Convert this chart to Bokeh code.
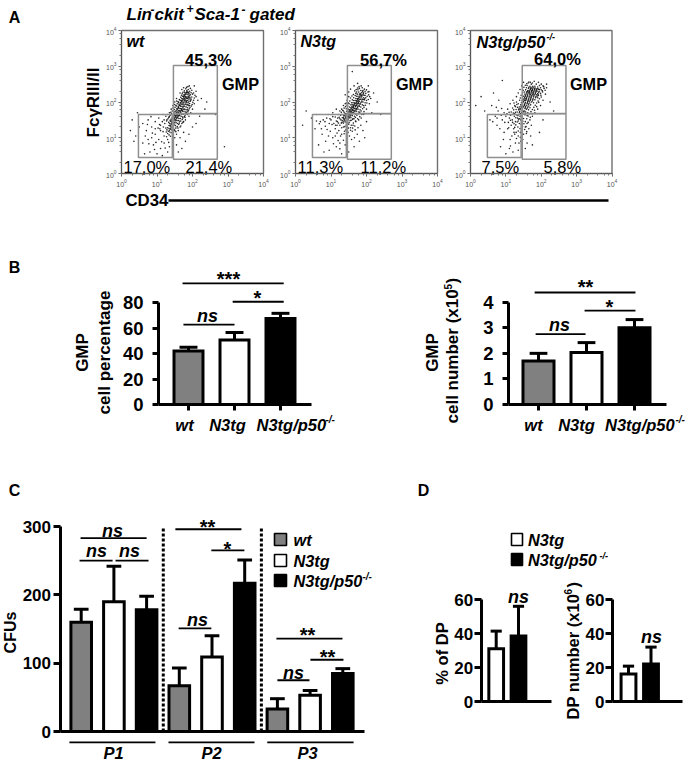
from math import pi
import numpy as np
from bokeh.embed import file_html
from bokeh.resources import INLINE
from bokeh.plotting import figure
from bokeh.core.properties import value
from bokeh.models import Range1d, LinearAxis, LogAxis, LogScale, FixedTicker, LogTicker

# ---------- data ----------
groups = ["wt", "N3tg", "N3tg/p50"]
bar_colors = ["#808080", "#ffffff", "#000000"]

gmp_pct = [42, 50.5, 67.5]
gmp_pct_cap = [45, 56.5, 71.5]
gmp_num = [1.7, 2.03, 3.0]
gmp_num_cap = [2.0, 2.42, 3.32]

cfu_x = [1, 2, 3, 4, 5, 6, 7, 8, 9]
cfu = [160, 190, 178, 67, 109, 217, 33, 53, 85]
cfu_cap = [179, 242, 198, 93, 140, 251, 48, 60, 92]
cfu_col = bar_colors * 3
cfu_passages = ["P1", "P2", "P3"]

dp_pct = [31, 38.5]
dp_pct_cap = [41.4, 56]
dp_num = [16.2, 22]
dp_num_cap = [20.8, 32]
dp_col = ["#ffffff", "#000000"]

gate_left = [29, 29, 3]
gate_right = [500, 500, 27]
gate_bottom = [48, 2.5, 2.8]
gate_top = [1050, 47, 45]

# FACS events, read as hundredths of a decade (log10 x, log10 y)
wt_events = [
(188,235),(194,238),(198,233),(184,232),(192,230),(178,226),(186,226),(190,224),(196,226),(182,222),(194,220),(200,222),(176,220),
(172,216),(180,216),(184,214),(188,216),(192,214),(198,214),(176,212),(182,210),(186,210),(190,208),(196,208),(170,210),
(168,204),(174,206),(178,204),(182,204),(186,204),(190,202),(194,202),(172,200),(176,200),(180,200),(184,198),(188,198),(192,196),(166,198),
(162,194),(168,194),(172,194),(176,192),(180,194),(184,192),(188,190),(192,190),(170,188),(174,188),(178,188),(182,186),(186,184),(160,188),(166,188),
(156,182),(162,182),(166,182),(170,182),(174,180),(178,180),(182,178),(186,178),(160,176),(164,176),(168,176),(172,174),(176,174),(180,172),(158,172),(154,176),
(150,168),(154,168),(158,168),(162,168),(166,168),(170,166),(174,166),(148,162),(152,162),(156,162),(160,162),(164,162),(168,160),(172,158),(146,156),(150,156),(154,156),(158,156),(162,154),(166,154),
(140,152),(144,150),(148,150),(152,150),(156,148),(160,148),(164,146),(138,146),(142,144),(146,144),(150,142),(154,142),(158,140),(136,140),(140,138),(144,138),(148,136),(152,134),(134,134),(138,132),(142,130),(146,128),
(130,128),(134,126),(138,124),(142,122),(128,122),(132,118),(136,116),(140,114),(126,116),(130,112),(134,108),(138,104),(144,108),
(120,150),(115,145),(125,160),(130,165),(110,135),(135,170),(128,150),(118,130),(108,125),(122,140),(140,180),(145,190),(150,200),(155,210),(165,225),(170,235),(175,240),(210,215),(215,205),(205,195),(200,180),(195,170),(190,160),(180,150),(175,145),(170,140),(165,130),(160,120),(155,110),(150,100),(185,165),(210,230),(205,245),
(60,140),(70,120),(85,130),(95,110),(75,95),(60,85),(90,80),(105,95),(120,85),(110,70),(130,60),(80,60),(65,55),(100,55),(120,105),(130,95),(85,100),(110,120),(95,145),(75,150),(50,130),(30,150),(25,120),(35,90),(45,170),(40,105),(115,50),(135,75),
(150,120),(165,100),(180,90),(155,80),(170,70),(190,110),(200,130),(145,90),(160,60),(175,115),(210,140),(220,160),(145,65),(235,180),(240,200),(290,75),(265,165),(225,210),
(133,157),(137,163),(141,167),(143,175),(147,171),(149,179),(151,185),(153,191),(155,189),(157,195),(159,201),(161,199),(163,207),(165,205),(167,213),(169,219),(171,223),(173,227),(177,231),(181,237),(183,241),(187,243),(191,245),(127,147),(131,153),(135,159),(139,171),(145,183),(149,193),(155,203),
(153,127),(157,131),(161,137),(163,141),(167,147),(171,151),(173,155),(177,159),(179,163),(181,167),(183,171),(187,173),(189,177),(191,181),(193,185),(197,189),(199,193),(201,199),(203,205),(205,211),(207,219),(203,225),(149,123),(145,117),(153,117),(159,127),(167,133),(173,143),(179,157),(187,167),
(133,143),(137,149),(141,147),(143,157),(147,159),(149,165),(151,173),(155,171),(157,179),(159,183),(161,185),(163,191),(165,191),(167,197),(169,201),(171,205),(173,209),(175,215),(177,217),(179,221),(181,225),(183,227),(185,229),(187,221),(189,227),(191,219),(193,211),(195,205),(187,193),(183,201),(179,207),(175,197),(171,177),(167,171),(163,165),(159,159),(155,153),(151,147),(147,141),(143,135),(139,127),(135,121),(185,211),(189,213),(181,213),(177,209),(173,185),(169,179),(165,173),(161,171),(157,165),(153,159),(149,153),(145,147),(141,141),(137,135),
(73,137),(87,113),(103,127),(117,117),(97,87),(67,105),(113,89),(127,103),(133,87),(93,67),(77,83),(123,71),(107,137),(83,159),(117,165),(105,155),(95,125),(125,127),
]
n3tg_events = [
(180,238),(188,240),(194,236),(200,234),(176,234),(184,232),(190,232),(196,230),(204,228),(172,228),(178,228),(186,226),(192,226),(198,224),(206,220),(170,224),(174,222),(180,222),(184,220),(190,220),(196,218),(202,216),(168,218),(172,216),(176,216),(182,214),(186,214),(192,212),(198,212),(164,212),(170,210),(174,210),(178,210),(184,208),(188,208),(194,206),(200,204),
(160,206),(164,204),(168,204),(172,204),(176,202),(180,202),(186,200),(190,200),(196,198),(158,198),(162,198),(166,198),(170,196),(174,196),(178,196),(182,194),(188,192),(192,190),(156,192),(160,192),(164,190),(168,190),(172,190),(176,188),(180,188),(184,186),(152,186),(156,184),(160,184),(164,184),(168,182),(172,182),(176,180),(182,178),(148,180),(152,178),(156,178),(160,176),(164,176),(168,176),(172,174),(178,172),
(144,174),(148,172),(152,172),(156,170),(160,170),(164,168),(170,166),(140,168),(144,166),(148,166),(152,164),(156,164),(160,162),(166,160),(136,162),(140,160),(144,160),(148,158),(152,158),(156,156),(162,154),(132,156),(136,154),(140,154),(144,152),(148,150),(154,148),(128,150),(132,148),(136,146),(140,144),(146,142),(150,138),
(120,165),(112,158),(105,170),(125,175),(115,180),(130,180),(135,190),(140,195),(145,205),(150,215),(100,150),(108,140),(118,145),(125,135),(130,128),(135,130),(122,120),(112,125),(95,140),(88,155),(92,165),(78,150),(70,145),(84,132),(98,118),(105,100),(112,105),(120,92),(130,110),(138,118),(142,122),(148,115),
(155,128),(162,135),(170,145),(178,150),(185,155),(192,165),(200,180),(208,195),(212,210),(160,118),(168,122),(176,128),(184,135),(152,105),(158,95),(166,100),(174,110),(190,120),(200,145),(215,170),(220,225),(165,245),(175,252),(205,245),(150,228),(140,220),(155,236),
(60,165),(45,155),(30,175),(20,135),(55,125),(75,110),(85,90),(65,80),(95,65),(115,75),(130,55),(80,60),(125,85),(140,80),(150,60),(165,75),(180,90),(195,100),(240,165),(230,200),(160,285),
(129,171),(133,177),(137,183),(141,187),(145,191),(149,197),(153,203),(155,211),(159,217),(163,221),(167,231),(171,235),(175,239),(179,243),(185,245),(127,163),(123,157),(131,165),(119,155),(115,147),(137,171),(143,181),(147,189),(151,195),(143,197),(135,175),(125,153),(121,141),(129,141),(117,135),
(151,143),(157,149),(161,151),(165,153),(169,157),(173,163),(177,167),(181,171),(185,175),(189,181),(193,185),(197,191),(201,197),(205,207),(209,215),(207,229),(157,135),(163,141),(169,147),(175,153),(181,159),(187,165),(193,173),(149,127),(155,121),(161,127),(167,133),(143,135),(139,131),(145,125),
(135,157),(139,163),(143,163),(147,169),(151,175),(155,175),(157,181),(159,187),(163,187),(165,193),(167,195),(171,199),(173,201),(175,207),(177,205),(179,213),(181,217),(183,223),(185,219),(187,217),(189,229),(191,223),(193,219),(195,209),(191,207),(187,203),(183,197),(179,191),(175,185),(171,179),(167,173),(163,171),(159,167),(155,161),(151,155),(147,153),(143,147),(139,149),(135,141),(131,143),(181,207),(177,199),(173,193),(169,187),(165,181),(161,179),(157,173),(153,167),(149,161),(145,157),(141,157),(137,151),
(73,125),(93,105),(103,137),(83,145),(117,113),(127,105),(135,93),(107,83),(89,123),(97,153),(67,139),(59,147),(125,69),(137,111),(113,135),(105,159),
]
p50_events = [
(165,256),(180,258),(192,255),(200,250),(172,250),(186,250),(195,246),(205,245),(160,246),(168,244),(176,244),(182,244),(190,242),(198,240),(208,238),(158,240),(164,238),(170,238),(174,238),(180,238),(186,236),(192,236),(200,234),(156,234),(162,232),(166,232),(172,232),(176,232),(182,232),(188,230),(194,230),(204,228),(152,228),(158,228),(164,228),(168,226),(174,226),(178,226),(184,226),(190,224),(198,224),(154,222),(160,222),(166,222),(170,220),(176,220),(180,220),(186,220),(192,218),(150,216),(156,216),(162,216),(168,214),(172,214),(178,214),(184,212),(190,212),(200,214),(148,210),(154,210),(158,210),(164,208),(170,208),(176,206),(182,206),(146,204),(152,204),(156,204),(162,202),(166,202),(172,200),(178,198),(144,198),(148,198),(154,196),(160,196),(164,194),(170,192),
(142,192),(146,190),(152,190),(156,188),(162,186),(168,184),(138,186),(144,184),(148,184),(154,182),(158,180),(164,178),(136,178),(140,178),(146,176),(150,174),(156,172),(162,170),(132,172),(138,170),(142,168),(148,166),(154,164),(160,162),(130,164),(134,162),(140,160),(146,158),(150,154),(128,156),(136,152),(142,150),(148,146),(132,144),(138,140),(144,138),(128,136),(134,130),(140,126),(146,122),
(120,205),(112,195),(125,190),(130,200),(105,180),(115,172),(122,178),(95,170),(100,160),(110,155),(118,150),(124,160),(88,182),(78,175),(90,150),(70,160),(60,190),(130,215),(135,225),(140,235),(145,245),(150,255),(115,135),(122,125),(108,128),(125,110),(130,98),(112,95),(135,105),(142,90),(150,110),(155,130),(160,140),(168,150),(175,160),(182,170),(190,180),(198,190),(205,205),(212,222),(215,240),(158,112),(165,125),(172,135),(148,95),(160,85),(170,105),(215,250),
(30,215),(40,175),(15,190),(65,225),(80,205),(55,150),(75,135),(95,115),(85,75),(110,70),(120,60),(135,65),(100,55),(155,70),(175,80),(195,115),(235,175),(205,150),(225,200),(90,260),
(137,181),(135,195),(139,205),(141,211),(143,219),(147,225),(149,233),(151,241),(155,247),(159,251),(163,253),(169,255),(175,253),(133,185),(129,179),(127,171),(125,167),(131,193),(127,187),(123,197),(119,183),(117,165),(113,163),(109,171),(121,169),(127,145),(123,139),(119,143),(113,149),(107,143),
(155,145),(159,153),(163,161),(167,167),(171,173),(175,179),(179,185),(183,191),(187,197),(191,203),(195,209),(199,219),(203,231),(207,243),(211,233),(151,139),(157,131),(163,143),(169,157),(175,167),(181,177),(187,187),(193,199),(147,131),(153,123),(159,117),(141,115),(135,119),(129,115),(125,129),
(165,241),(171,241),(177,241),(183,239),(189,237),(195,235),(169,235),(175,235),(181,235),(187,233),(193,227),(161,229),(167,229),(173,229),(179,229),(185,229),(191,221),(159,225),(165,225),(171,223),(177,223),(183,223),(189,217),(155,219),(161,219),(167,217),(173,217),(179,217),(185,215),(153,213),(159,213),(165,211),(171,211),(177,209),(151,207),(157,207),(163,205),(169,205),(175,203),(149,201),(155,199),(161,199),(167,197),(147,193),(153,193),(159,191),(165,189),(143,187),(149,187),(155,185),(161,183),(141,181),(147,179),(153,175),(139,173),(145,171),(151,169),(137,165),(143,161),(133,155),(139,153),(135,147),
(73,185),(87,163),(97,143),(105,125),(83,125),(63,145),(117,105),(127,85),(113,77),(93,95),(103,167),(75,155),(123,115),(141,101),(137,85),
]

# significance brackets: x0, x1, y in each panel's own data units
sig_gmp_pct = [(0.89, 2.0, 62.7), (1.96, 3.07, 80.6), (0.87, 3.07, 95)]
sig_gmp_num = [(0.94, 1.98, 2.75), (1.96, 3.02, 3.67), (0.92, 3.02, 4.38)]
sig_cfu = [(0.98, 3.0, 283), (0.95, 1.96, 250), (2.05, 3.06, 250),
           (3.88, 5.90, 296), (4.98, 5.99, 265), (3.98, 4.98, 151),
           (6.97, 8.99, 136), (8.01, 9.02, 105), (7.0, 7.98, 75),
           (0.64, 3.27, -16), (3.67, 6.30, -16), (6.69, 9.33, -16)]

# ---------- page canvas, coordinates are window pixels ----------
W0, W1, H0, H1 = 0, 687, 0, 763
FONT = "Liberation Sans"
p = figure(width=W1 - W0, height=H1 - H0, x_range=Range1d(W0, W1), y_range=Range1d(H1, H0),
           output_backend="svg", toolbar_location=None, x_axis_location=None, y_axis_location=None,
           min_border=0, outline_line_color=None)
p.grid.visible = False


def span(d0, px0, d1, px1, a, b):
    s = (d1 - d0) / (px1 - px0)
    return d0 + (a - px0) * s, d0 + (b - px0) * s


def panel(name, xa, ya, log=False):
    x0, x1 = span(*xa, W0, W1)
    y0, y1 = span(*ya, H1, H0)
    if log:
        p.extra_x_ranges[name] = Range1d(10 ** x0, 10 ** x1)
        p.extra_y_ranges[name] = Range1d(10 ** y0, 10 ** y1)
        p.extra_x_scales[name] = LogScale()
        p.extra_y_scales[name] = LogScale()
    else:
        p.extra_x_ranges[name] = Range1d(x0, x1)
        p.extra_y_ranges[name] = Range1d(y0, y1)
    return dict(x_range_name=name, y_range_name=name)


def txt(x, y, s, size, style="bold", align="center", angle=0, color="#000000", baseline="middle"):
    p.text([x], [y], text=[s], text_font=value(FONT), text_font_size=f"{size}px", text_font_style=style,
           text_align=align, text_baseline=baseline, angle=angle, text_color=color)


def bar_axes(r, x_bounds, y_ticks, size, out, standoff, x_ticks=(), tick_down=0):
    ya = LinearAxis(fixed_location=x_bounds[0], bounds=(y_ticks[0], y_ticks[-1]), ticker=FixedTicker(ticks=list(y_ticks)), **r)
    xa = LinearAxis(fixed_location=0, bounds=x_bounds, ticker=FixedTicker(ticks=[]), **r)
    ya.major_label_text_font = FONT
    ya.major_label_text_font_style = "bold"
    ya.major_label_text_font_size = f"{size}px"
    ya.major_label_text_color = "#000000"
    ya.major_label_standoff = standoff
    ya.major_tick_out = out
    ya.major_tick_in = 0
    ya.minor_tick_line_color = None
    xa.minor_tick_line_color = None
    for a in (ya, xa):
        a.axis_line_width = 3
        a.axis_line_color = "#000000"
        a.major_tick_line_width = 3
        a.major_tick_line_color = "#000000"
    p.add_layout(ya, "left")
    p.add_layout(xa, "below")
    for t in x_ticks:
        p.segment([t], [0], [t], [-tick_down], line_color="#000000", line_width=3, **r)


def bars(r, xs, tops, caps, colors, bar_w, cap_w):
    xs = np.array(xs, dtype=float)
    p.vbar(x=xs, top=tops, bottom=0, width=bar_w, fill_color=colors, line_color="#000000",
           line_width=3, line_join="miter", **r)
    p.segment(xs, tops, xs, caps, line_color="#000000", line_width=3, **r)
    p.segment(xs - cap_w / 2, caps, xs + cap_w / 2, caps, line_color="#000000", line_width=3, **r)


def sig(r, rows):
    for x0, x1, y in rows:
        p.segment([x0], [y], [x1], [y], line_color="#000000", line_width=1.8, **r)


# ---------- A: flow panels ----------
flow = [("wt", wt_events, 121, 263), ("N3tg", n3tg_events, 295, 437), ("N3tg/p50", p50_events, 470, 611.5)]
for name, events, fx0, fx1 in flow:
    r = panel("f" + name, (0, fx0, 4, fx1), (0, 173, 4, 30), log=True)
    ev = np.array(events) / 100.0
    p.scatter(10 ** ev[:, 0], 10 ** ev[:, 1], size=1.6, marker="circle", line_width=0,
              fill_color="#000000", fill_alpha=0.85, **r)
    p.quad(left=gate_left, right=gate_right, bottom=gate_bottom, top=gate_top, fill_color=None,
           line_color="#8f8f8f", line_width=1.5, **r)
    p.quad(left=[1], right=[1e4], bottom=[1], top=[1e4], fill_color=None, line_color="#6f6f6f", line_width=1.4, **r)
    ya = LogAxis(fixed_location=1, bounds=(1, 1e4), ticker=LogTicker(), **r)
    xa = LogAxis(fixed_location=1, bounds=(1, 1e4), ticker=LogTicker(), **r)
    for a in (ya, xa):
        a.major_label_text_font = FONT
        a.major_label_text_font_size = "7px"
        a.major_label_text_color = "#555555"
        a.major_label_standoff = 2
        a.axis_line_color = "#555555"
        a.axis_line_width = 1
        a.major_tick_line_color = "#555555"
        a.minor_tick_line_color = "#777777"
        a.major_tick_out = 3
        a.major_tick_in = 0
        a.minor_tick_out = 2
        a.minor_tick_in = 0
    p.add_layout(ya, "left")
    p.add_layout(xa, "below")

txt(14, 17, "A", 16, align="center")
txt(126, 14, "Lin", 17, "bold italic", "left")
txt(150, 9, "-", 12, "bold italic", "left")
txt(154, 14, "ckit", 17, "bold italic", "left")
txt(186, 8, "+", 12, "bold italic", "left")
txt(194, 14, "Sca-1", 17, "bold italic", "left")
txt(241, 9, "-", 12, "bold italic", "left")
txt(249, 14, "gated", 17, "bold italic", "left")
txt(126, 41, "wt", 16, "bold italic", "left")
txt(300, 41, "N3tg", 16, "bold italic", "left")
txt(476, 41, "N3tg/p50", 16.3, "bold italic", "left")
txt(546, 36, "-/-", 9, "bold italic", "left")
for x, y, s in [(208, 59, "45,3%"), (383, 59, "56,7%"), (557, 58, "64,0%")]:
    txt(x, y, s, 16.5)
for x in (240, 414, 588):
    txt(x, 83, "GMP", 16.3)
for x, s in [(123, "17,0%"), (185, "21,4%"), (297, "11,3%"), (360, "11,2%"), (481, "7,5%"), (543, "5,8%")]:
    txt(x, 166, s, 16.5, "normal", "left")
txt(93, 102, "FcγRIII/II", 17, angle=pi / 2)
txt(125, 200, "CD34", 16.8, align="left")
p.segment([168], [200], [608], [200], line_color="#000000", line_width=2.5)

# ---------- B ----------
txt(14, 267, "B", 16)
r = panel("b1", (1, 188, 2, 234), (0, 404, 80, 302))
bar_axes(r, (0.348, 3.674), [0, 20, 40, 60, 80], 18.5, 6, 9, [1, 2, 3], 4.7)
bars(r, [1, 2, 3], gmp_pct, gmp_pct_cap, bar_colors, 0.63, 0.39)
sig(r, sig_gmp_pct)
txt(207, 315, "ns", 18, "bold italic")
txt(257, 297.5, "*", 20)
txt(228, 278.5, "***", 20)
txt(82, 352, "GMP", 17, angle=pi / 2)
txt(104, 352, "cell percentage", 17, angle=pi / 2)
txt(184, 424, "wt", 16.5, "bold italic")
txt(227, 424, "N3tg", 16.5, "bold italic")
txt(256, 424, "N3tg/p50", 16.5, "bold italic", "left")
txt(325, 419, "-/-", 10, "bold italic", "left")

r = panel("b2", (1, 538, 2, 586), (0, 404, 4, 301.7))
bar_axes(r, (0.375, 3.667), [0, 1, 2, 3, 4], 18.5, 6, 9, [1, 2, 3], 0.235)
bars(r, [1, 2, 3], gmp_num, gmp_num_cap, bar_colors, 0.646, 0.37)
sig(r, sig_gmp_num)
txt(559, 324, "ns", 18, "bold italic")
txt(609, 306.5, "*", 20)
txt(585, 286.5, "**", 20)
txt(432, 352, "GMP", 17, angle=pi / 2)
txt(452, 423, "cell number (x10", 17, align="left", angle=pi / 2)
txt(447, 289, "5", 10, align="left", angle=pi / 2)
txt(452, 283, ")", 17, align="left", angle=pi / 2)
txt(533, 424, "wt", 16.5, "bold italic")
txt(576, 424, "N3tg", 16.5, "bold italic")
txt(604.5, 424, "N3tg/p50", 16.5, "bold italic", "left")
txt(675, 419, "-/-", 10, "bold italic", "left")

# ---------- C ----------
txt(14, 490, "C", 16)
r = panel("c", (1, 80.7, 2, 113.4), (0, 731, 300, 526))
for sep in (3.51, 6.51):
    p.segment([sep], [0], [sep], [300], line_color="#000000", line_width=3, line_dash="3 2", **r)
bar_axes(r, (0.352, 9.66), [0, 100, 200, 300], 17, 7, 2)
bars(r, cfu_x, cfu, cfu_cap, cfu_col, 0.63, 0.45)
sig(r, sig_cfu)
txt(112, 530, "ns", 18, "bold italic")
txt(96, 550, "ns", 18, "bold italic")
txt(129, 550, "ns", 18, "bold italic")
txt(207, 526.5, "**", 20)
txt(227, 548.5, "*", 20)
txt(197, 619, "ns", 18, "bold italic")
txt(307, 634.5, "**", 20)
txt(327, 656.5, "**", 20)
txt(293, 672, "ns", 18, "bold italic")
for x, s in zip((113, 211, 307), cfu_passages):
    txt(x, 752, s, 16.5, "bold italic")
txt(10, 632, "CFUs", 16, angle=pi / 2)
for y, col, s in [(539, bar_colors[0], groups[0]), (560, bar_colors[1], groups[1]), (580, bar_colors[2], groups[2])]:
    p.quad(left=[274], right=[286], top=[y - 6], bottom=[y + 6], fill_color=col, line_color="#000000", line_width=1.6)
    txt(293, y, s, 16.3, "bold italic", "left")
txt(362, 576, "-/-", 10, "bold italic", "left")

# ---------- D ----------
txt(423, 490, "D", 16)
for y, col, s in [(539, dp_col[0], groups[1]), (559, dp_col[1], groups[2])]:
    p.quad(left=[511], right=[522], top=[y - 6], bottom=[y + 6], fill_color=col, line_color="#000000", line_width=1.6)
    txt(527.5, y, s, 16.3, "bold italic", "left")
txt(599, 555, "-/-", 9, "bold italic", "left")

r = panel("d1", (1, 495.7, 2, 518), (0, 701, 60, 599))
bar_axes(r, (0.327, 3.48), [0, 20, 40, 60], 17, 7, 1)
bars(r, [1, 2], dp_pct, dp_pct_cap, dp_col, 0.66, 0.5)
txt(518, 596, "ns", 18, "bold italic")
txt(441, 653, "% of DP", 16.5, angle=pi / 2)

r = panel("d2", (1, 628, 2, 650.5), (0, 701, 60, 599))
bar_axes(r, (0.289, 3.4), [0, 20, 40, 60], 17, 7, 1)
bars(r, [1, 2], dp_num, dp_num_cap, dp_col, 0.66, 0.5)
txt(651, 636, "ns", 18, "bold italic")
txt(572, 719, "DP number (x10", 16.5, align="left", angle=pi / 2)
txt(567, 594, "6", 10, align="left", angle=pi / 2)
txt(572, 587, ")", 16.5, align="left", angle=pi / 2)

open("out.html", "w").write(file_html(p, INLINE))
